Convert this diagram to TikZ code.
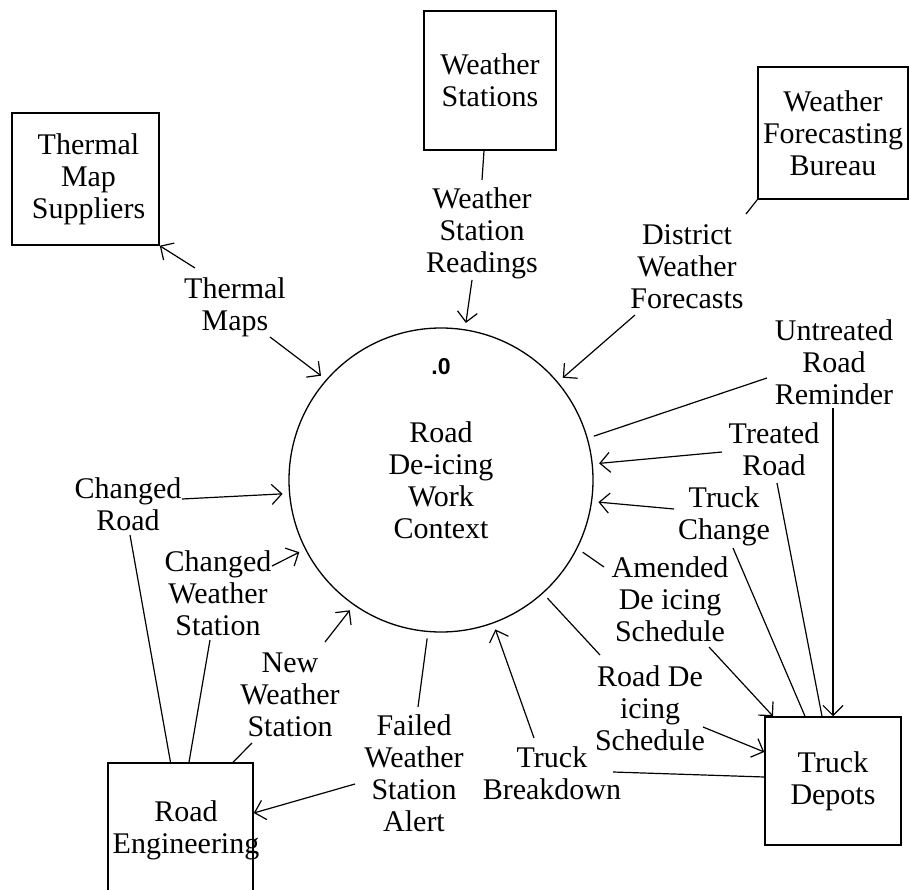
\documentclass[tikz,border=0pt]{standalone}
\usepackage{fontspec}
\setmainfont{Liberation Serif}
\newfontfamily\labsans{Liberation Sans Bold}
\usetikzlibrary{arrows.meta}
\begin{document}
\begin{tikzpicture}[x=1pt,y=-1pt,
  every node/.style={font=\fontsize{30}{32}\selectfont, align=center, inner sep=0pt},
  ent/.style={draw, line width=1.5pt, rectangle},
  proc/.style={draw, line width=1.3pt, circle, minimum size=304pt, outer sep=7pt},
  flow/.style={line width=1.2pt},
  arr/.style={flow, -{Straight Barb[length=10pt,width=20pt]}},
  numtext/.style={font=\fontsize{23}{26}\labsans\selectfont}]
\useasboundingbox (0,0) rectangle (910,890);
\clip (0,0) rectangle (910,890);

% entities
\node[ent, minimum width=147pt, minimum height=132pt] (tms) at (85.5,179) {\hspace*{6pt}Thermal\\\hspace*{6pt}Map\\\hspace*{6pt}Suppliers};
\node[ent, minimum width=132pt, minimum height=139pt] (ws) at (490,80.5) {Weather\\Stations};
\node[ent, minimum width=150pt, minimum height=132pt] (wfb) at (833,133) {Weather\\Forecasting\\Bureau};
\node[ent, minimum width=136pt, minimum height=128pt] (td) at (833,781) {Truck\\Depots};
\node[ent, minimum width=145pt, minimum height=200pt] (re) at (180.5,863) {};
\node (ret) at (186,830) {Road\\Engineering};

% process
\node[proc] (c) at (441,480) {Road\\De-icing\\Work\\Context};
\node[numtext] (num) at (441,367) {.0};

% labels
\node (tm) at (235,307) {Thermal\\Maps};
\node (wsr) at (482,233) {Weather\\Station\\Readings};
\node (dwf) at (687,267) {District\\Weather\\Forecasts};
\node (urr) at (834,362) {Untreated\\Road\\Reminder};
\node (tr) at (774,449) {Treated\\Road};
\node (tc) at (724,516) {Truck\\Change};
\node (ads) at (670,599) {Amended\\De icing\\Schedule};
\node (rds) at (650,708) {Road De\\icing\\Schedule};
\node (tb) at (552,773) {Truck\\Breakdown};
\node (fwsa) at (414,773) {Failed\\Weather\\Station\\Alert};
\node (cr) at (128,504) {Changed\\Road};
\node (cws) at (218,593) {Changed\\Weather\\Station};
\node (nws) at (290,695) {New\\Weather\\Station};

% connector ends near labels
\coordinate (tmA) at (195,268);
\coordinate (tmB) at (270,337);
\coordinate (wsrA) at (482,180);
\coordinate (wsrB) at (472,280);
\coordinate (dwfA) at (746,214);
\coordinate (dwfB) at (635,315);
\coordinate (urrA) at (767,378);
\coordinate (urrB) at (833,408);
\coordinate (trA) at (722,452);
\coordinate (trB) at (777,483);
\coordinate (tcA) at (674,509);
\coordinate (tcB) at (733,548);
\coordinate (adsA) at (604,567);
\coordinate (adsB) at (709,647);
\coordinate (rdsA) at (600,655);
\coordinate (rdsB) at (703,727);
\coordinate (tbA) at (534,738);
\coordinate (tbB) at (613,772);
\coordinate (fwsaA) at (418,707);
\coordinate (fwsaB) at (355,784);
\coordinate (crA) at (182,499);
\coordinate (crB) at (130,535);
\coordinate (cwsA) at (272,566);
\coordinate (cwsB) at (210,640);
\coordinate (nwsA) at (325,642);
\coordinate (nwsB) at (252,743);

% flows
\draw[arr] (tmA) -- (tms.south east);
\draw[arr] (tmB) -- (c.139);
\draw[flow] ([xshift=-6pt]ws.south) -- (wsrA);
\draw[arr] (wsrB) -- (c.81);
\draw[flow] (wfb.south west) -- (dwfA);
\draw[arr] (dwfB) -- (c.40);
\draw[flow] (c.16) -- (urrA);
\draw[arr] (urrB) -- (td.north);
\draw[flow] ([xshift=-11pt]td.north) -- (trB);
\draw[arr] (trA) -- (c.6);
\draw[flow] ([xshift=-28pt]td.north) -- (tcB);
\draw[arr] (tcA) -- (c.-8);
\draw[flow] (c.-27) -- (adsA);
\draw[arr] (adsB) -- ([xshift=-60pt]td.north);
\draw[flow] (c.-48) -- (rdsA);
\draw[arr] (rdsB) -- ([yshift=29pt]td.west);
\draw[flow] ([yshift=4pt]td.west) -- (tbB);
\draw[arr] (tbA) -- (c.-70);
\draw[flow] (c.-95) -- (fwsaA);
\draw[arr] (fwsaB) -- ([yshift=50pt]re.east);
\draw[flow] ([xshift=-10pt]re.north) -- (crB);
\draw[arr] (crA) -- (c.185);
\draw[flow] ([xshift=8.5pt]re.north) -- (cwsB);
\draw[arr] (cwsA) -- (c.207);
\draw[flow] ([xshift=52.5pt]re.north) -- (nwsB);
\draw[arr] (nwsA) -- (c.235);
\end{tikzpicture}
\end{document}
